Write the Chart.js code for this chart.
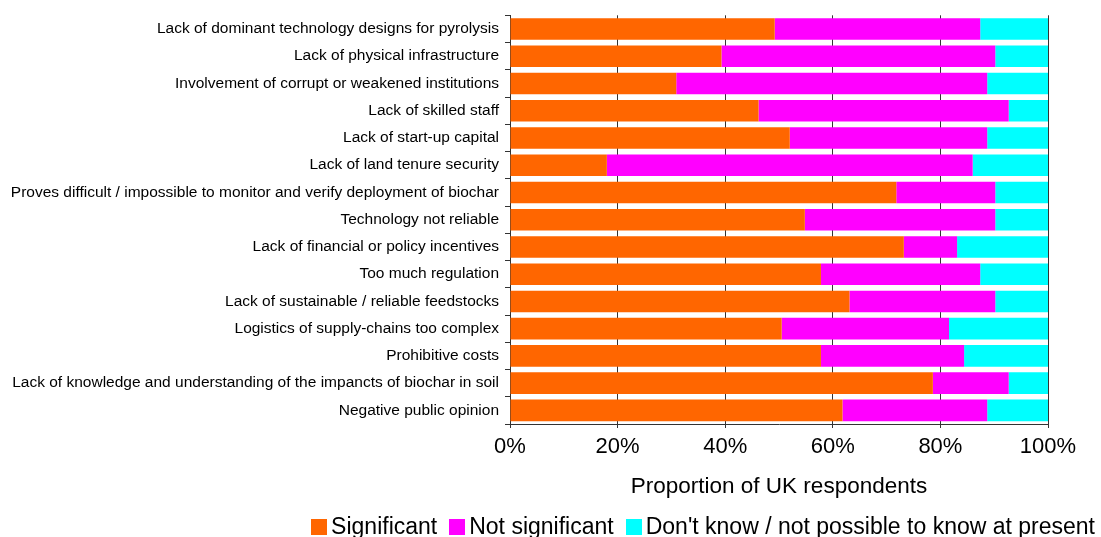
<!DOCTYPE html>
<html>
<head>
<meta charset="utf-8">
<script src="https://cdn.jsdelivr.net/npm/chart.js@4/dist/chart.umd.min.js"></script>
<style>
  html, body { margin: 0; padding: 0; background: #fff; }
  #wrap { position: relative; width: 1101px; height: 537px; }
  #legend {
    position: absolute; right: 6px; top: 515px;
    display: flex; align-items: center;
    font-family: "Liberation Sans", Arial, sans-serif; font-size: 23px; line-height: 23px;
    color: #000; white-space: nowrap;
  }
  #legend .item { display: flex; align-items: center; margin-right: 12px; }
  #legend .item:last-child { margin-right: 0; }
  #legend .box { width: 16px; height: 16px; margin-right: 4px; }
</style>
</head>
<body>
<div id="wrap">
  <canvas id="chart"></canvas>
  <div id="legend"></div>
</div>
<script>
// Barrier categories, top to bottom
const categories = [
    'Lack of dominant technology designs for pyrolysis',
    'Lack of physical infrastructure',
    'Involvement of corrupt or weakened institutions',
    'Lack of skilled staff',
    'Lack of start-up capital',
    'Lack of land tenure security',
    'Proves difficult / impossible to monitor and verify deployment of biochar',
    'Technology not reliable',
    'Lack of financial or policy incentives',
    'Too much regulation',
    'Lack of sustainable / reliable feedstocks',
    'Logistics of supply-chains too complex',
    'Prohibitive costs',
    'Lack of knowledge and understanding of the impancts of biochar in soil',
    'Negative public opinion'
];

// Share of respondents (%)
const significant    = [49.2, 39.3, 30.9, 46.2, 52.0, 18.0, 71.8, 54.8, 73.2, 57.8, 63.1, 50.5, 57.8, 78.6, 61.8];
const notSignificant = [38.2, 50.9, 57.8, 46.5, 36.7, 68.0, 18.4, 35.4,  9.9, 29.6, 27.1, 31.1, 26.6, 14.1, 26.9];
const dontKnow       = [12.6,  9.8, 11.3,  7.3, 11.3, 14.0,  9.8,  9.8, 16.9, 12.6,  9.8, 18.4, 15.6,  7.3, 11.3];

const xTicks = [0, 20, 40, 60, 80, 100];

const FONT = '"Liberation Sans", Arial, sans-serif';

const ctx = document.getElementById('chart').getContext('2d');
const chart = new Chart(ctx, {
    type: 'bar',
    data: {
        labels: categories,
        datasets: [
            { label: 'Significant', data: significant, backgroundColor: '#FF6600' },
            { label: 'Not significant', data: notSignificant, backgroundColor: '#FF00FF' },
            { label: "Don't know / not possible to know at present", data: dontKnow, backgroundColor: '#00FFFF' }
        ]
    },
    options: {
        indexAxis: 'y',
        responsive: true,
        maintainAspectRatio: false,
        animation: false,
        layout: { padding: { top: 14, right: 53, left: 0, bottom: 33 } },
        datasets: {
            bar: { barPercentage: 0.79, categoryPercentage: 1.0, borderWidth: 0 }
        },
        scales: {
            x: {
                stacked: true,
                min: 0,
                max: 100,
                afterBuildTicks: (scale) => { scale.ticks = xTicks.map(v => ({ value: v })); },
                afterFit: (scale) => { scale.height = 80; },
                ticks: {
                    color: '#000',
                    font: { family: FONT, size: 22 },
                    padding: 6,
                    callback: (v) => v + '%'
                },
                grid: { color: '#333', lineWidth: 1, tickLength: 4 },
                border: { color: '#333', width: 1 },
                title: {
                    display: true,
                    text: 'Proportion of UK respondents',
                    color: '#000',
                    font: { family: FONT, size: 22.5 },
                    padding: { top: 8, bottom: 4 }
                }
            },
            y: {
                stacked: true,
                afterFit: (scale) => { scale.width = 510; },
                ticks: {
                    color: '#000',
                    font: { family: FONT, size: 15.5 },
                    padding: 6,
                    autoSkip: false
                },
                grid: { offset: true, drawOnChartArea: false, drawTicks: true, tickLength: 5, color: '#333' },
                border: { color: '#333', width: 1 }
            }
        },
        plugins: {
            legend: { display: false },
            tooltip: { enabled: false }
        }
    }
});

// Build the legend below the chart from the datasets
const legendDiv = document.getElementById('legend');
chart.data.datasets.forEach(ds => {
    const item = document.createElement('span');
    item.className = 'item';
    const box = document.createElement('span');
    box.className = 'box';
    box.style.background = ds.backgroundColor;
    const text = document.createElement('span');
    text.textContent = ds.label;
    item.appendChild(box);
    item.appendChild(text);
    legendDiv.appendChild(item);
});
</script>
</body>
</html>
